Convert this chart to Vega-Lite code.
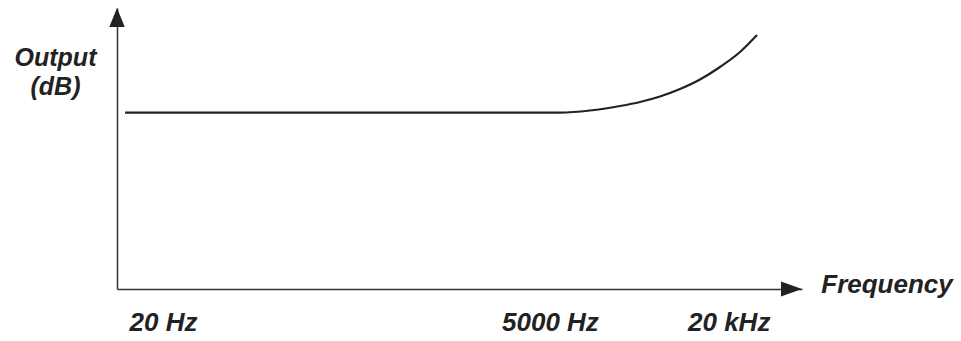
{
  "$schema": "https://vega.github.io/schema/vega-lite/v6.json",
  "width": 685,
  "height": 281,
  "autosize": {"type": "none"},
  "padding": {"left": 117, "top": 8, "right": 159, "bottom": 52},
  "background": "white",
  "config": {
    "view": {"stroke": null},
    "axis": {"grid": false, "ticks": false, "domainColor": "#333333", "domainWidth": 1.5}
  },
  "datasets": {
    "curve": [
      {"pos": 1.17, "output": 62.8},
      {"pos": 64.67, "output": 62.8},
      {"pos": 69.05, "output": 63.52},
      {"pos": 73.43, "output": 65.12},
      {"pos": 76.35, "output": 66.55},
      {"pos": 79.27, "output": 68.51},
      {"pos": 82.19, "output": 71.17},
      {"pos": 85.11, "output": 74.56},
      {"pos": 88.03, "output": 79.0},
      {"pos": 90.95, "output": 84.34},
      {"pos": 93.43, "output": 90.39}
    ],
    "arrowUp": [{"pos": 0, "output": 100}],
    "arrowRight": [{"pos": 100, "output": 0}]
  },
  "layer": [
    {
      "data": {"name": "curve"},
      "mark": {"type": "line", "color": "#222222", "strokeWidth": 2.2, "interpolate": "monotone", "clip": false},
      "encoding": {
        "x": {
          "field": "pos", "type": "quantitative",
          "scale": {"domain": [0, 100], "nice": false, "zero": false},
          "axis": {
            "values": [6.72, 63.2, 89.3],
            "labelExpr": "datum.value < 10 ? '20 Hz' : datum.value < 70 ? '5000 Hz' : '20 kHz'",
            "labelFont": "Liberation Sans", "labelFontSize": 26, "labelFontStyle": "italic", "labelFontWeight": "bold",
            "labelColor": "#222222", "labelBaseline": "alphabetic", "labelPadding": 41, "labelFlush": false, "labelOverlap": false,
            "title": "Frequency", "titleFont": "Liberation Sans", "titleFontSize": 26, "titleFontStyle": "italic", "titleFontWeight": "bold",
            "titleColor": "#222222", "titleX": 769.5, "titleY": 3, "titleAlign": "center", "titleBaseline": "alphabetic"
          }
        },
        "y": {
          "field": "output", "type": "quantitative",
          "scale": {"domain": [0, 100], "nice": false, "zero": false},
          "axis": {
            "labels": false,
            "title": ["Output", "(dB)"], "titleFont": "Liberation Sans", "titleFontSize": 25, "titleFontStyle": "italic", "titleFontWeight": "bold",
            "titleColor": "#222222", "titleAngle": 0, "titleX": -62, "titleY": 57, "titleAlign": "center", "titleBaseline": "alphabetic", "titleLineHeight": 29
          }
        }
      }
    },
    {
      "data": {"name": "arrowUp"},
      "mark": {"type": "point", "filled": true, "opacity": 1, "color": "#222222", "size": 100, "shape": "M0,0L1.55,3.8L-1.55,3.8Z", "clip": false},
      "encoding": {
        "x": {"field": "pos", "type": "quantitative"},
        "y": {"field": "output", "type": "quantitative"}
      }
    },
    {
      "data": {"name": "arrowRight"},
      "mark": {"type": "point", "filled": true, "opacity": 1, "color": "#222222", "size": 100, "shape": "M0,0L-4.2,-1.5L-4.2,1.5Z", "clip": false},
      "encoding": {
        "x": {"field": "pos", "type": "quantitative"},
        "y": {"field": "output", "type": "quantitative"}
      }
    }
  ]
}
